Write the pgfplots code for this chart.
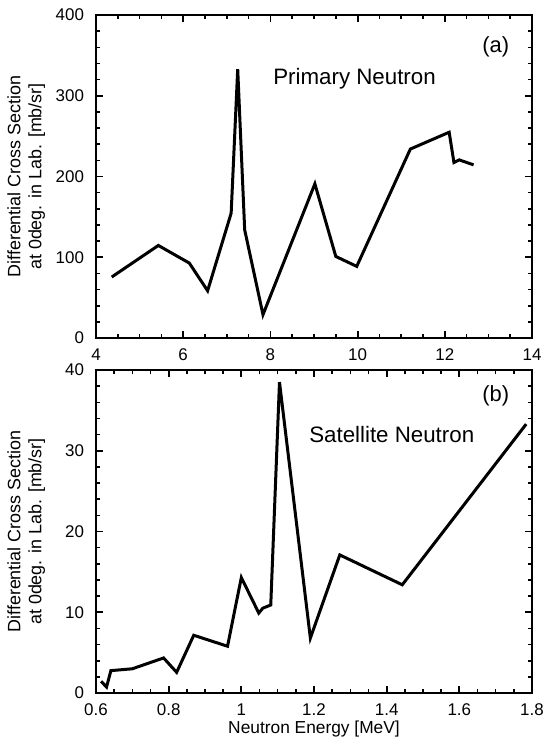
\documentclass[border=0pt]{standalone}
\usepackage{fontspec}
\setmainfont{Liberation Sans}
\usepackage{pgfplots}
\pgfplotsset{compat=1.18}
\begin{document}
\begin{tikzpicture}
\pgfplotsset{
  every axis/.append style={
    scale only axis,
    width=218bp, height=161.5bp,
    axis line style={line width=0.9bp},
    tick align=inside,
    xtick pos=both, ytick pos=both,
    major tick style={line width=0.9bp, black},
    minor tick style={line width=0.8bp, black},
    major tick length=3.5bp,
    minor tick length=2.2bp,
    tick label style={font=\fontsize{8.5}{10}\selectfont},
    xticklabel style={yshift=-2bp},
    yticklabel style={xshift=-2.5bp},
    every axis y label/.style={at={(axis description cs:-0.16,0.5)}, rotate=90, anchor=center, align=center,
      font=\fontsize{9}{10.5}\selectfont},
    every axis x label/.style={at={(axis description cs:0.5,-0.112)}, anchor=center,
      font=\fontsize{8.7}{10.5}\selectfont},
    /pgf/number format/assume math mode=true,
  },
}
\path[use as bounding box] (-48bp,-202.5bp) rectangle (224bp,169bp);
\begin{axis}[
    name=top,
    xmin=4, xmax=14,
    ymin=0, ymax=400,
    xtick={4,6,...,14},
    minor x tick num=3,
    ytick={0,100,...,400},
    minor y tick num=4,
    ylabel={Differential Cross Section\\at 0deg. in Lab. [mb/sr]},
]
\addplot[black, line width=1.5bp] coordinates {
    (4.36,75.5)(5.43,114.6)(6.14,92.8)(6.56,58.5)(7.10,154.6)(7.25,333)
    (7.41,134)(7.83,28.9)(9.02,190.9)(9.50,101)(9.98,88.7)(11.21,234)
    (12.10,254.8)(12.21,217.3)(12.33,220.6)(12.66,214.4)
};
\node[font=\fontsize{11}{13}\selectfont] at (axis cs:13.17,360) {(a)};
\node[font=\fontsize{11.2}{13}\selectfont] at (axis cs:9.93,321) {Primary Neutron};
\end{axis}
\begin{axis}[
    at={(0,-177.5bp)},
    xmin=0.6, xmax=1.8,
    ymin=0, ymax=40,
    xtick={0.6,0.8,...,1.8},
    minor x tick num=3,
    ytick={0,10,...,40},
    minor y tick num=4,
    xlabel={Neutron Energy [MeV]},
    ylabel={Differential Cross Section\\at 0deg. in Lab. [mb/sr]},
]
\addplot[black, line width=1.5bp] coordinates {
    (0.614,1.45)(0.629,0.74)(0.641,2.77)(0.70,3.0)(0.786,4.34)(0.822,2.56)
    (0.869,7.15)(0.962,5.79)(1.0,14.3)(1.048,9.9)(1.059,10.5)(1.081,10.9)
    (1.105,38.5)(1.190,6.8)(1.271,17.1)(1.443,13.4)(1.784,33.3)
};
\node[font=\fontsize{11}{13}\selectfont] at (axis cs:1.70,36.8) {(b)};
\node[font=\fontsize{11.2}{13}\selectfont] at (axis cs:1.414,32.0) {Satellite Neutron};
\end{axis}
\end{tikzpicture}
\end{document}
